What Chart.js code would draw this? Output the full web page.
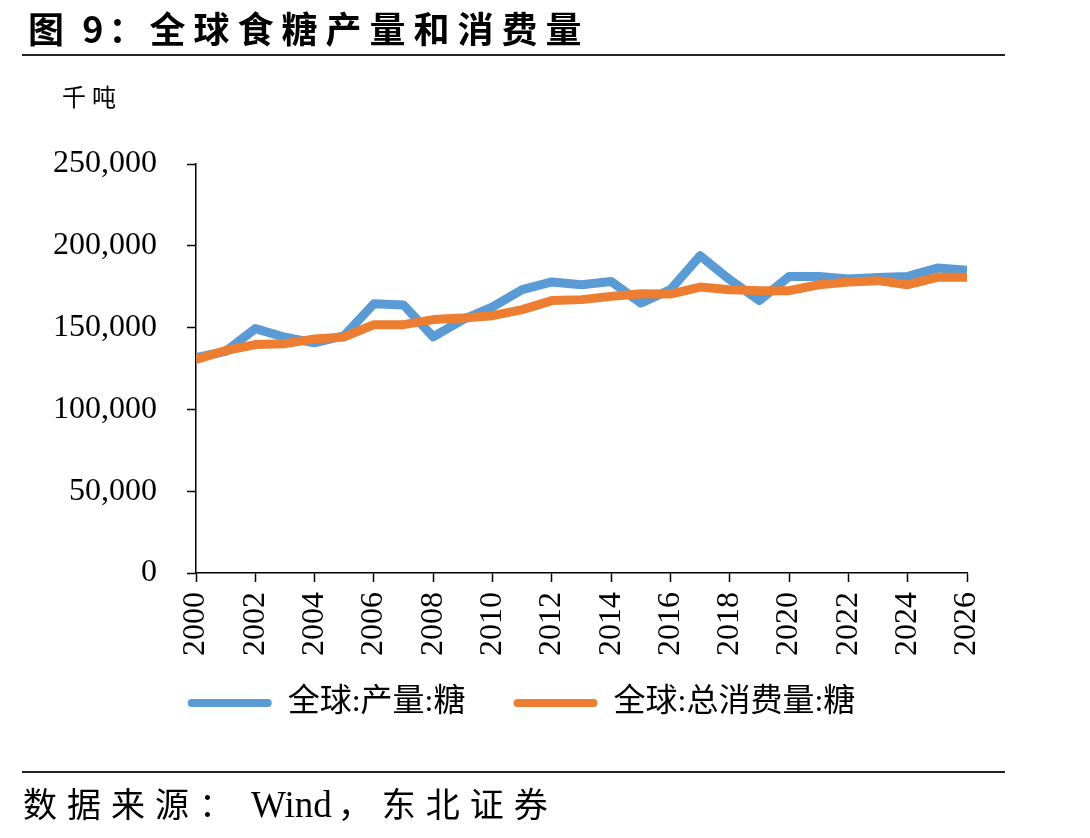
<!DOCTYPE html>
<html>
<head>
<meta charset="utf-8">
<script src="https://cdn.jsdelivr.net/npm/chart.js@4.4.1/dist/chart.umd.min.js"></script>
<style>
  html, body { margin:0; padding:0; background:#fff; }
  #wrap { position:relative; width:1090px; height:838px; overflow:hidden; }
  #c { position:absolute; left:0; top:0; }
  .t { position:absolute; white-space:nowrap; color:#000; line-height:1; }
  .cjk { font-family:"Noto Sans CJK SC", sans-serif; }
  .rule { position:absolute; left:22px; width:983px; height:2px; background:#222; }
</style>
</head>
<body>
<div id="wrap">
  <canvas id="c" width="1090" height="838"></canvas>
  <div class="t cjk" style="left:28px; top:9px; font-size:36px; font-weight:700;"><span style="letter-spacing:5px;">图 9：</span><span style="letter-spacing:8px;">全球食糖产量和消费量</span></div>
  <div class="rule" style="top:54px;"></div>
  <div class="t cjk" style="left:62px; top:84px; font-size:24px; letter-spacing:6px;">千吨</div>
  <div class="rule" style="top:771px;"></div>
  <div class="t" style="left:23px; top:786px; font-size:34px;"><span class="cjk" style="letter-spacing:10px;">数据来源：</span><span style="font-family:'Liberation Serif',serif; font-size:37px; margin-left:8px;">Wind</span><span class="cjk" style="letter-spacing:10px; margin-left:6px;">，东北证券</span></div>
</div>
<script>
const years = [2000,2001,2002,2003,2004,2005,2006,2007,2008,2009,2010,2011,2012,2013,2014,2015,2016,2017,2018,2019,2020,2021,2022,2023,2024,2025,2026];
const production = [131700,135500,149400,144100,140700,145100,164600,163800,144300,154900,162600,173200,177900,176200,178200,165000,173200,193900,179300,166500,181300,181300,179700,180700,181300,186400,185000];
const consumption = [130500,136000,139600,140200,143100,144300,151800,151800,154900,155900,157300,161000,166500,167100,169100,170700,170500,174800,173200,172600,172600,176200,177900,178700,176200,180700,180700];
const seriesNames = ['全球:产量:糖', '全球:总消费量:糖'];
const seriesColors = ['#5B9BD5', '#ED7D31'];
const yTicks = [0, 50000, 100000, 150000, 200000, 250000];

const toPts = arr => arr.map((v, i) => ({x: years[i], y: v}));
const serifFont = "'Liberation Serif', 'Noto Sans CJK SC', serif";

new Chart(document.getElementById('c'), {
  type: 'line',
  data: {
    datasets: [
      { label: seriesNames[0], data: toPts(production), borderColor: seriesColors[0], backgroundColor: seriesColors[0],
        borderWidth: 9, pointRadius: 0, tension: 0, borderJoinStyle: 'round', order: 1 },
      { label: seriesNames[1], data: toPts(consumption), borderColor: seriesColors[1], backgroundColor: seriesColors[1],
        borderWidth: 9, pointRadius: 0, tension: 0, borderJoinStyle: 'round', order: 0 }
    ]
  },
  options: {
    responsive: false,
    animation: false,
    devicePixelRatio: 1,
    layout: { padding: { left: 0, right: 47, top: 164, bottom: 109 } },
    plugins: {
      tooltip: { enabled: false },
      title: { display: false },
      legend: {
        position: 'bottom',
        labels: {
          font: { family: serifFont, size: 32 },
          color: '#000',
          boxWidth: 84,
          boxHeight: 8,
          padding: 24,
          useBorderRadius: true,
          generateLabels: chart => chart.data.datasets.map((ds, i) => ({
            text: ds.label + (i === 0 ? '   ' : ''), fillStyle: ds.borderColor, strokeStyle: ds.borderColor,
            lineWidth: 0, hidden: false, datasetIndex: i, borderRadius: 4, fontColor: '#000'
          }))
        }
      }
    },
    scales: {
      x: {
        type: 'linear',
        min: years[0], max: years[years.length - 1],
        afterFit: s => { s.height = 90; },
        grid: { drawOnChartArea: false, tickLength: 9, tickColor: '#000', tickWidth: 1.5 },
        border: { color: '#000', width: 1.5 },
        ticks: {
          stepSize: 2, autoSkip: false, minRotation: 90, maxRotation: 90, padding: 10,
          color: '#000', font: { family: serifFont, size: 32 },
          callback: v => String(v)
        }
      },
      y: {
        min: yTicks[0], max: yTicks[yTicks.length - 1],
        afterFit: s => { s.width = 196; },
        afterBuildTicks: s => { s.ticks = yTicks.map(v => ({value: v})); },
        grid: { drawOnChartArea: false, tickLength: 9, tickColor: '#000', tickWidth: 1.5 },
        border: { color: '#000', width: 1.5 },
        ticks: {
          padding: 30, color: '#000', font: { family: serifFont, size: 32 },
          callback: v => v.toLocaleString('en-US')
        }
      },
      yRight: {
        position: 'right',
        min: 0, max: 1,
        afterFit: s => { s.width = 76; },
        grid: { display: false },
        border: { display: false },
        ticks: { display: false }
      }
    }
  }
});
</script>
</body>
</html>
